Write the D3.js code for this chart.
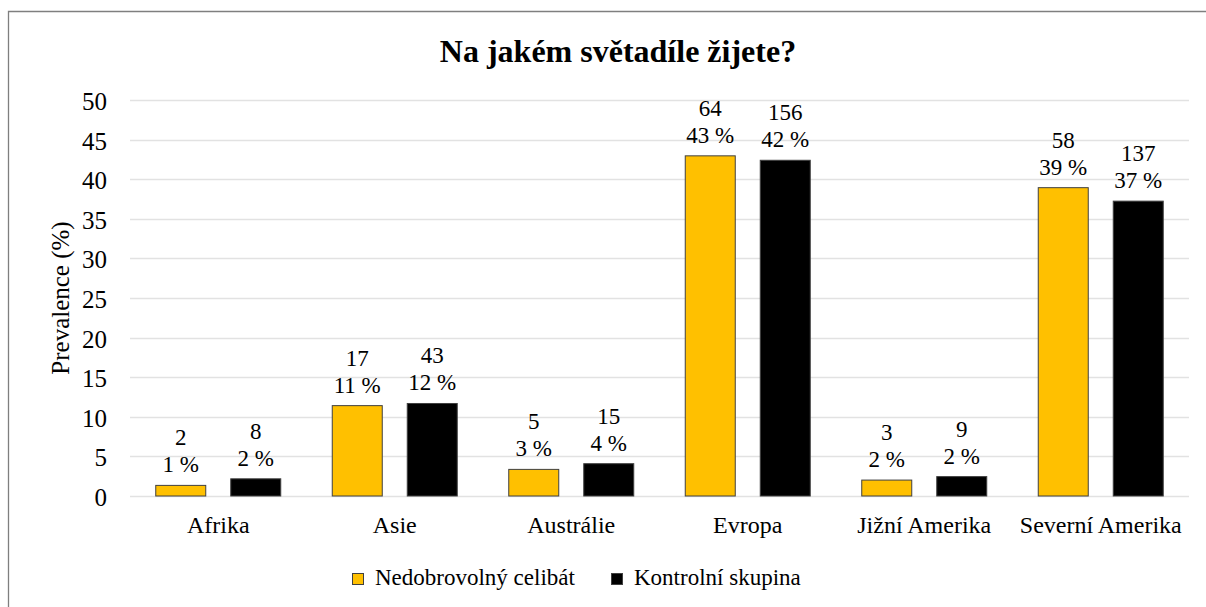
<!DOCTYPE html>
<html>
<head>
<meta charset="utf-8">
<script src="https://cdn.jsdelivr.net/npm/d3@7"></script>
<style>
  body { margin: 0; background: #fff; }
</style>
</head>
<body>
<div id="chart"></div>
<script>
var categories = ["Afrika", "Asie", "Austrálie", "Evropa", "Jižní Amerika", "Severní Amerika"];
var seriesNames = ["Nedobrovolný celibát", "Kontrolní skupina"];
var celibatPct = [1.34, 11.41, 3.36, 42.95, 2.01, 38.93];
var celibatN = [2, 17, 5, 64, 3, 58];
var kontrolPct = [2.17, 11.68, 4.08, 42.39, 2.45, 37.23];
var kontrolN = [8, 43, 15, 156, 9, 137];
var yTicks = [0, 5, 10, 15, 20, 25, 30, 35, 40, 45, 50];
var colors = ["#FFC000", "#000000"];

var serif = "Liberation Serif";
var width = 1206, height = 607;
var margin = {left: 130, right: 17, top: 100, bottom: 111};

var svg = d3.select("#chart").append("svg")
	.attr("width", width)
	.attr("height", height)
	.attr("font-family", serif);

// frame (top and left edges only visible)
svg.append("path")
	.attr("d", "M8.5," + height + "V11.5H" + width)
	.attr("fill", "none")
	.attr("stroke", "#7f7f7f")
	.attr("stroke-width", 1.3);

var xScale = d3.scaleBand()
	.domain(categories)
	.range([margin.left, width - margin.right]);

var yScale = d3.scaleLinear()
	.domain([0, 50])
	.range([height - margin.bottom, margin.top]);

var barW = 50, barGap = 25;

// grid
svg.append("g").selectAll("line")
	.data(yTicks)
	.enter()
	.append("line")
	.attr("x1", margin.left)
	.attr("x2", width - margin.right)
	.attr("y1", function(d) { return Math.round(yScale(d)) + 0.5; })
	.attr("y2", function(d) { return Math.round(yScale(d)) + 0.5; })
	.attr("stroke", "#e2e2e2")
	.attr("stroke-width", 1.3);

var yAxis = d3.axisLeft(yScale).tickValues(yTicks).tickSize(0).tickPadding(0);
var yAxisHandle = svg.append("g")
	.attr("transform", "translate(" + (margin.left - 23) + ",0)")
	.call(yAxis)
	.attr("font-family", serif)
	.attr("font-size", 25);
yAxisHandle.select(".domain").remove();
yAxisHandle.selectAll("text")
	.attr("font-family", serif)
	.attr("fill", "#000")
	.attr("dy", "0.38em");

var xAxis = d3.axisBottom(xScale).tickSize(0).tickPadding(0);
var xAxisHandle = svg.append("g")
	.attr("transform", "translate(0," + yScale(0) + ")")
	.call(xAxis)
	.attr("font-family", serif)
	.attr("font-size", 24);
xAxisHandle.select(".domain").remove();
xAxisHandle.selectAll("text")
	.attr("font-family", serif)
	.attr("fill", "#000")
	.attr("y", 37)
	.attr("dy", null);

// title
svg.append("text")
	.attr("x", 618)
	.attr("y", 62)
	.attr("text-anchor", "middle")
	.attr("font-family", serif)
	.attr("font-size", 32)
	.attr("font-weight", "bold")
	.text("Na jakém světadíle žijete?");

// y label
svg.append("text")
	.attr("transform", "translate(69," + yScale(25) + ") rotate(-90)")
	.attr("text-anchor", "middle")
	.attr("font-family", serif)
	.attr("font-size", 25)
	.text("Prevalence (%)");

var series = [
	{name: seriesNames[0], pct: celibatPct, n: celibatN, color: colors[0]},
	{name: seriesNames[1], pct: kontrolPct, n: kontrolN, color: colors[1]}
];

series.forEach(function(s, si) {
	var offset = (xScale.bandwidth() - 2 * barW - barGap) / 2 + si * (barW + barGap);
	var g = svg.append("g");
	g.selectAll("rect")
		.data(categories)
		.enter()
		.append("rect")
		.attr("x", function(d) { return xScale(d) + offset; })
		.attr("y", function(d, i) { return yScale(s.pct[i]); })
		.attr("width", barW)
		.attr("height", function(d, i) { return yScale(0) - yScale(s.pct[i]); })
		.attr("fill", s.color)
		.attr("stroke", "#404040")
		.attr("stroke-width", 1);

	g.selectAll("text.pct")
		.data(categories)
		.enter()
		.append("text")
		.attr("class", "pct")
		.attr("x", function(d) { return xScale(d) + offset + barW / 2; })
		.attr("y", function(d, i) { return yScale(s.pct[i]) - 13; })
		.attr("text-anchor", "middle")
		.attr("font-family", serif)
		.attr("font-size", 23)
		.text(function(d, i) { return Math.round(s.pct[i]) + " %"; });

	g.selectAll("text.cnt")
		.data(categories)
		.enter()
		.append("text")
		.attr("class", "cnt")
		.attr("x", function(d) { return xScale(d) + offset + barW / 2; })
		.attr("y", function(d, i) { return yScale(s.pct[i]) - 40; })
		.attr("text-anchor", "middle")
		.attr("font-family", serif)
		.attr("font-size", 23)
		.text(function(d, i) { return s.n[i]; });
});

// legend
var legendX = [352, 611];
var legend = svg.append("g");
legend.selectAll("rect")
	.data(series)
	.enter()
	.append("rect")
	.attr("x", function(d, i) { return legendX[i] + 0.5; })
	.attr("y", 573.5)
	.attr("width", 11)
	.attr("height", 11)
	.attr("fill", function(d) { return d.color; })
	.attr("stroke", "#404040")
	.attr("stroke-width", 1);
legend.selectAll("text")
	.data(series)
	.enter()
	.append("text")
	.attr("x", function(d, i) { return legendX[i] + 23; })
	.attr("y", 585)
	.attr("font-family", serif)
	.attr("font-size", 23)
	.text(function(d) { return d.name; });
</script>
</body>
</html>
